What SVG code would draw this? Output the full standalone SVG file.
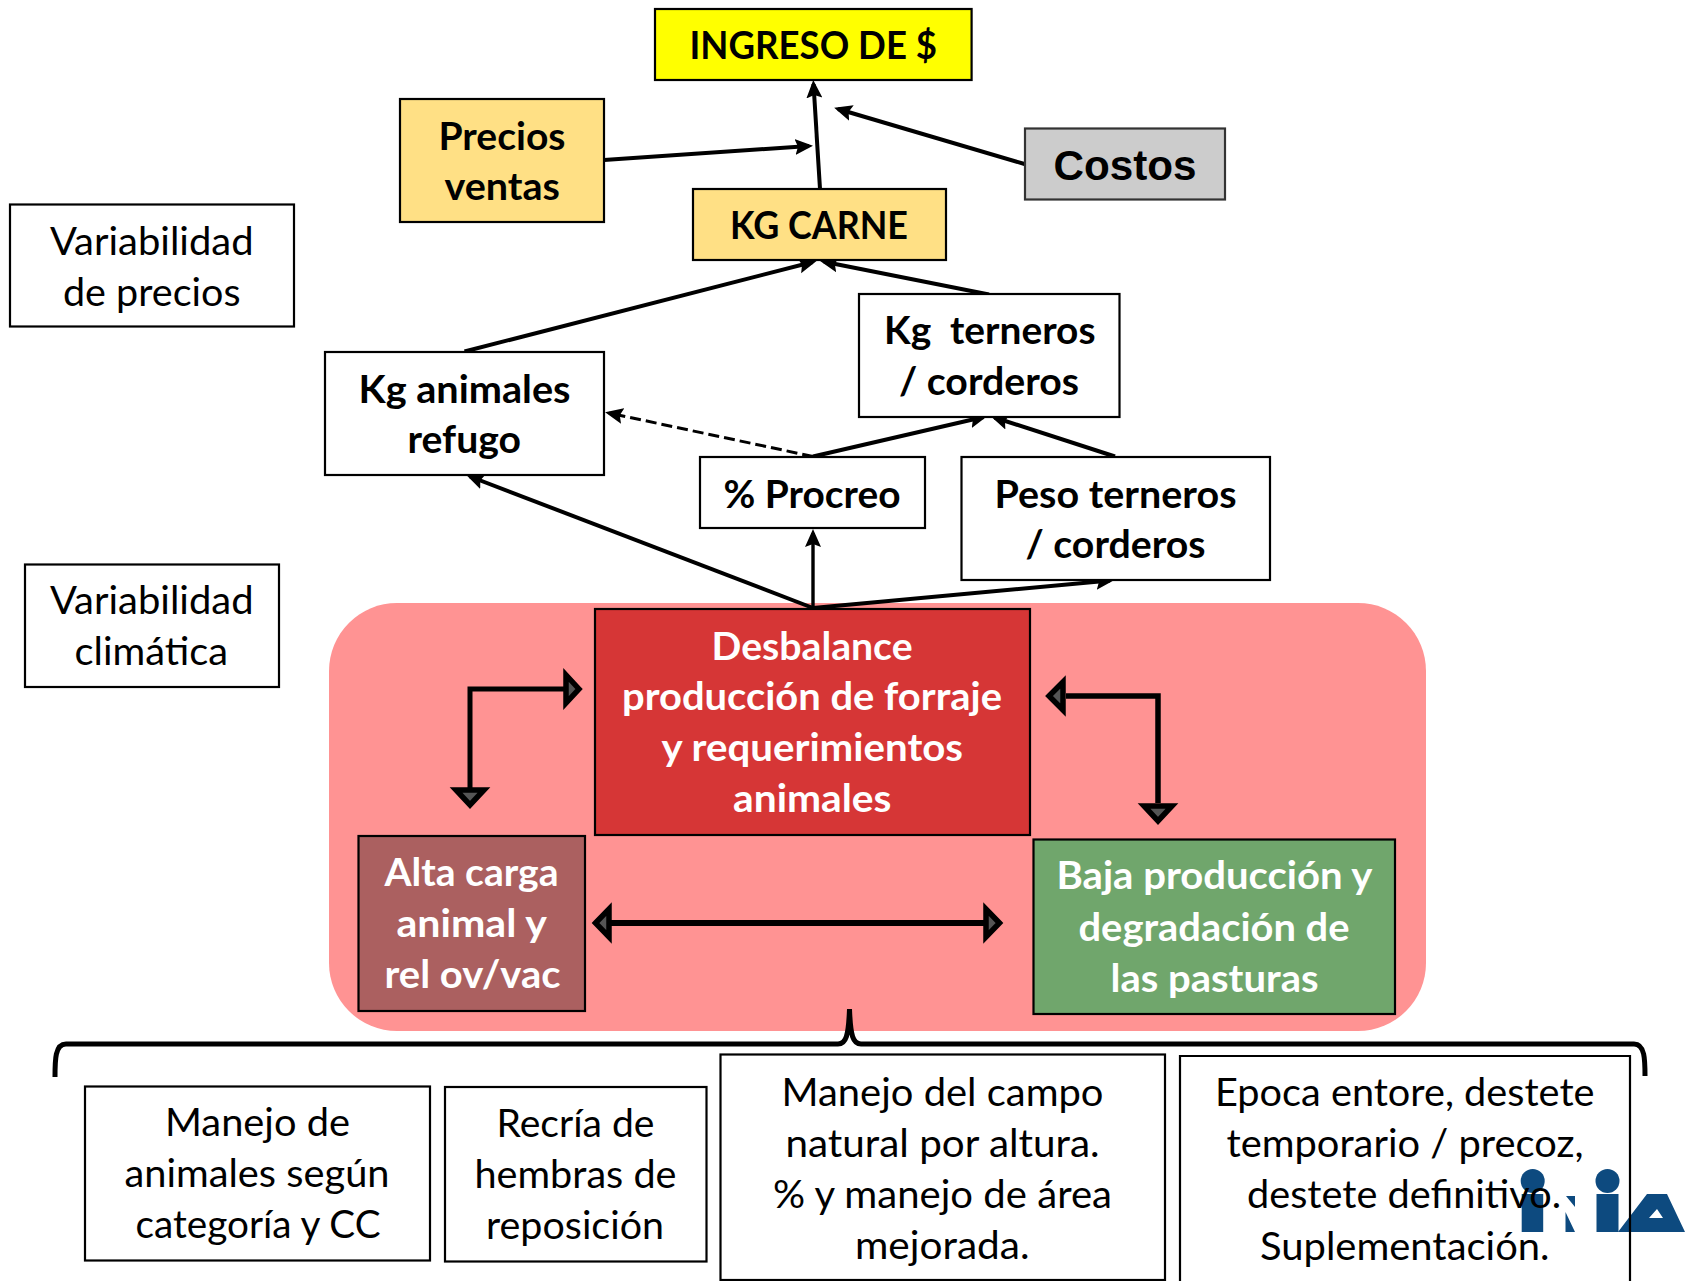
<svg xmlns="http://www.w3.org/2000/svg" width="1688" height="1281" viewBox="0 0 1688 1281">
<style>
text{font-family:"Lato","Open Sans","Liberation Sans",sans-serif;font-size:39px;fill:#000}
.b{font-weight:700}
.w{font-weight:700;fill:#fff}
.box{fill:#fff;stroke:#000;stroke-width:2.2}
.gold{fill:#ffe085}
.thin{fill:none;stroke:#000;stroke-width:4}
.thick{fill:none;stroke:#000;stroke-width:5.5}
.head{fill:#555;stroke:#000;stroke-width:5.5}
.logo{fill:#0d4a7f}
</style>
<defs>
<marker id="ah" markerUnits="userSpaceOnUse" markerWidth="20" markerHeight="18" viewBox="0 0 20 18" refX="14" refY="9" orient="auto"><path d="M0 1L18 9L0 17L3 9Z" fill="#000"/></marker>
</defs>
<rect width="1688" height="1281" fill="#fff"/>
<g id="panel"><rect x="329" y="603" width="1097" height="428" rx="68" ry="68" fill="#ff9393"/></g>
<g id="logo-inia">
<circle class="logo" cx="1532.7" cy="1181" r="12"/><rect class="logo" x="1521.7" y="1194" width="21.5" height="38"/>
<path class="logo" d="M1566 1196L1575 1196L1575 1207ZM1565.5 1212L1575 1232L1565.5 1232Z"/>
<circle class="logo" cx="1607.5" cy="1181" r="12"/><rect class="logo" x="1596.5" y="1194" width="22" height="38"/>
<path class="logo" fill-rule="evenodd" d="M1618 1232L1647 1194L1667 1194L1685 1232ZM1649 1218L1657 1209L1663 1218Z"/>
</g>
<g id="connectors">
<path class="thin" marker-end="url(#ah)" d="M820 189L813.5 84"/>
<path class="thin" marker-end="url(#ah)" d="M604 160L809 146"/>
<path class="thin" marker-end="url(#ah)" d="M1024.5 164L838 109"/>
<path class="thin" marker-end="url(#ah)" d="M464.5 351.5L812.7 262"/>
<path class="thin" marker-end="url(#ah)" d="M989 294.5L824 261.8"/>
<path class="thin" stroke-dasharray="11 5" style="stroke-width:3" marker-end="url(#ah)" d="M813 456.5L609 413"/>
<path class="thin" marker-end="url(#ah)" d="M813 456.5L983.6 417"/>
<path class="thin" marker-end="url(#ah)" d="M1115 456.5L994.5 417.5"/>
<path class="thin" marker-end="url(#ah)" d="M813 608L470 476.5"/>
<path class="thin" style="stroke-width:3.4" marker-end="url(#ah)" d="M813 608L813 533"/>
<path class="thin" marker-end="url(#ah)" d="M813 608L1110 580.5"/>
</g>
<g id="n-ingreso"><rect class="box" style="fill:#ff0" x="655" y="9" width="316.6" height="71"/><text class="b" x="689.5" y="59" textLength="247.5" lengthAdjust="spacingAndGlyphs">INGRESO DE $</text></g>
<g id="n-precios"><rect class="box gold" x="400" y="99" width="204" height="123"/><text class="b" x="438.5" y="149.5" textLength="127" lengthAdjust="spacingAndGlyphs">Precios</text><text class="b" x="444.5" y="200" textLength="115.5" lengthAdjust="spacingAndGlyphs">ventas</text></g>
<g id="n-kgcarne"><rect class="box gold" x="693" y="189" width="253" height="71"/><text class="b" x="730" y="239" textLength="178" lengthAdjust="spacingAndGlyphs">KG CARNE</text></g>
<g id="n-costos"><rect class="box" style="fill:#ccc;stroke:#333" x="1025" y="128.5" width="200" height="71"/><text style="font-family:'Liberation Sans',Arial,sans-serif;font-size:43px" class="b" x="1053.5" y="180" textLength="143" lengthAdjust="spacingAndGlyphs">Costos</text></g>
<g id="n-kgterneros"><rect class="box" x="859" y="294" width="260.5" height="123"/><text class="b" x="884" y="344" textLength="211.5" lengthAdjust="spacingAndGlyphs" xml:space="preserve">Kg  terneros</text><text class="b" x="899" y="395" textLength="180" lengthAdjust="spacingAndGlyphs">/ corderos</text></g>
<g id="n-kganimales"><rect class="box" x="325" y="352" width="279" height="123"/><text class="b" x="358.5" y="402.5" textLength="212" lengthAdjust="spacingAndGlyphs">Kg animales</text><text class="b" x="407.5" y="452.5" textLength="113.5" lengthAdjust="spacingAndGlyphs">refugo</text></g>
<g id="n-procreo"><rect class="box" x="700" y="457" width="225" height="71"/><text class="b" x="723.5" y="507.5" textLength="177" lengthAdjust="spacingAndGlyphs">% Procreo</text></g>
<g id="n-peso"><rect class="box" x="961.5" y="457" width="308.5" height="123"/><text class="b" x="994.5" y="507.5" textLength="242" lengthAdjust="spacingAndGlyphs">Peso terneros</text><text class="b" x="1025.5" y="558" textLength="180" lengthAdjust="spacingAndGlyphs">/ corderos</text></g>
<g id="n-varprecios"><rect class="box" x="10" y="204.5" width="284" height="122"/><text x="50" y="255" textLength="203.5" lengthAdjust="spacingAndGlyphs">Variabilidad</text><text x="63" y="305.5" textLength="177.5" lengthAdjust="spacingAndGlyphs">de precios</text></g>
<g id="n-varclima"><rect class="box" x="25" y="564.5" width="254" height="122.5"/><text x="50" y="614" textLength="203.5" lengthAdjust="spacingAndGlyphs">Variabilidad</text><text x="74.5" y="665" textLength="153.5" lengthAdjust="spacingAndGlyphs">climática</text></g>
<g id="n-desbalance"><rect class="box" style="fill:#d63636" x="595" y="609" width="435" height="226"/><text class="w" x="711.6" y="659.5" textLength="201" lengthAdjust="spacingAndGlyphs">Desbalance</text><text class="w" x="622" y="710" textLength="380" lengthAdjust="spacingAndGlyphs">producción de forraje</text><text class="w" x="661.5" y="760.5" textLength="301.5" lengthAdjust="spacingAndGlyphs">y requerimientos</text><text class="w" x="733" y="811.5" textLength="158.5" lengthAdjust="spacingAndGlyphs">animales</text></g>
<g id="n-alta"><rect class="box" style="fill:#ab6060" x="358.5" y="836" width="226.5" height="175"/><text class="w" x="384.5" y="886" textLength="174" lengthAdjust="spacingAndGlyphs">Alta carga</text><text class="w" x="396.5" y="937" textLength="150.5" lengthAdjust="spacingAndGlyphs">animal y</text><text class="w" x="384.5" y="988" textLength="176" lengthAdjust="spacingAndGlyphs">rel ov/vac</text></g>
<g id="n-baja"><rect class="box" style="fill:#70a66c" x="1033.5" y="839.5" width="361.5" height="174.5"/><text class="w" x="1056.5" y="889" textLength="316" lengthAdjust="spacingAndGlyphs">Baja producción y</text><text class="w" x="1078.5" y="941" textLength="271" lengthAdjust="spacingAndGlyphs">degradación de</text><text class="w" x="1110.5" y="991.5" textLength="208" lengthAdjust="spacingAndGlyphs">las pasturas</text></g>
<g id="feedback-arrows">
<path class="thick" style="stroke-width:5" d="M564 689H470V788"/>
<polygon class="head" points="579,689 566,675 566,703"/>
<polygon class="head" points="456,790 484,790 470,805"/>
<path class="thick" d="M1066 696H1158V803"/>
<polygon class="head" points="1049,696 1063,682 1063,710"/>
<polygon class="head" points="1144,806 1172,806 1158,821"/>
<path class="thick" style="stroke-width:6" d="M609 923H985"/>
<polygon class="head" points="595.5,923 609,909 609,937"/>
<polygon class="head" points="999.5,923 986,909 986,937"/>
</g>
<g id="brace"><path fill="none" stroke="#000" stroke-width="5" d="M55 1077C55 1060 55 1044 66 1044L838 1044C846 1044 848.5 1036 849.5 1009C850.5 1036 853 1044 861 1044L1634 1044C1645 1044 1645 1060 1645 1076"/></g>
<g id="n-manejo-animales"><rect class="box" x="85" y="1086.5" width="345" height="174"/><text x="165" y="1136" textLength="185" lengthAdjust="spacingAndGlyphs">Manejo de</text><text x="124.5" y="1187" textLength="265" lengthAdjust="spacingAndGlyphs">animales según</text><text x="135.5" y="1238" textLength="245" lengthAdjust="spacingAndGlyphs">categoría y CC</text></g>
<g id="n-recria"><rect class="box" x="445" y="1087" width="261.5" height="174.5"/><text x="496.5" y="1137" textLength="158" lengthAdjust="spacingAndGlyphs">Recría de</text><text x="474.5" y="1188" textLength="202" lengthAdjust="spacingAndGlyphs">hembras de</text><text x="486" y="1239" textLength="178" lengthAdjust="spacingAndGlyphs">reposición</text></g>
<g id="n-campo"><rect class="box" x="720.5" y="1054.5" width="444.5" height="225.5"/><text x="781.5" y="1105.5" textLength="322" lengthAdjust="spacingAndGlyphs">Manejo del campo</text><text x="785.5" y="1157" textLength="314" lengthAdjust="spacingAndGlyphs">natural por altura.</text><text x="773" y="1207.5" textLength="339" lengthAdjust="spacingAndGlyphs">% y manejo de área</text><text x="855" y="1258.5" textLength="174.5" lengthAdjust="spacingAndGlyphs">mejorada.</text></g>
<g id="n-epoca"><path fill="none" stroke="#000" stroke-width="2.2" d="M1180 1281V1056H1630V1281"/><text x="1215" y="1106" textLength="379.5" lengthAdjust="spacingAndGlyphs">Epoca entore, destete</text><text x="1226.5" y="1157" textLength="357" lengthAdjust="spacingAndGlyphs">temporario / precoz,</text><text x="1247" y="1208" textLength="314" lengthAdjust="spacingAndGlyphs">destete definitivo.</text><text x="1260" y="1259.5" textLength="289.5" lengthAdjust="spacingAndGlyphs">Suplementación.</text></g>
</svg>
